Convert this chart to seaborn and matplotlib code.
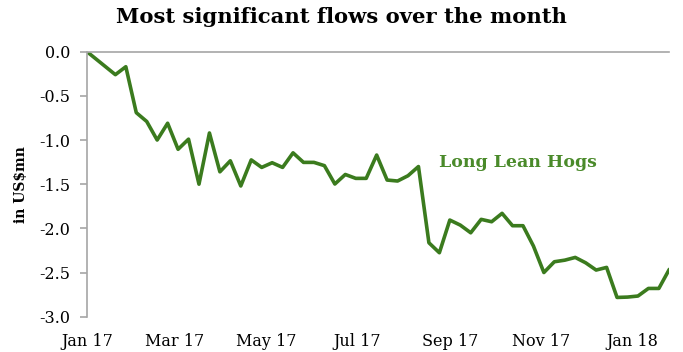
import numpy as np
import pandas as pd
import matplotlib
matplotlib.use("Agg")
import matplotlib.pyplot as plt
import matplotlib.dates as mdates
import seaborn as sns

# Weekly positioning flows (Friday releases), in US$ mn
start_date = "2017-01-01"
first_friday = "2017-01-20"
n_weeks = 54
flows = [
    0.0,
    -0.26, -0.17, -0.69, -0.79, -1.00, -0.81, -1.105, -0.99, -1.50, -0.92,
    -1.36, -1.235, -1.52, -1.225, -1.31, -1.257, -1.31, -1.145, -1.253, -1.253,
    -1.29, -1.498, -1.39, -1.434, -1.434, -1.17, -1.453, -1.464, -1.404, -1.30,
    -2.163, -2.276, -1.906, -1.963, -2.05, -1.898, -1.925, -1.83, -1.97, -1.97,
    -2.20, -2.50, -2.378, -2.36, -2.329, -2.39, -2.472, -2.442, -2.782, -2.778,
    -2.766, -2.68, -2.68, -2.464,
]
series_name = "Long Lean Hogs"
title = "Most significant flows over the month"
y_label = "in US$mn"
y_ticks = [0.0, -0.5, -1.0, -1.5, -2.0, -2.5, -3.0]

dates = [pd.Timestamp(start_date)] + list(pd.date_range(first_friday, periods=n_weeks, freq="7D"))
df = pd.DataFrame({"date": dates, "flow": flows})

sns.set_style("white")
plt.rcParams["font.family"] = ["DejaVu Serif"]
plt.rcParams["text.color"] = "black"
plt.rcParams["xtick.color"] = "black"
plt.rcParams["ytick.color"] = "black"
plt.rcParams["axes.labelcolor"] = "black"

green = "#3b7b1e"
grey = "#a6a6a6"

fig = plt.figure(figsize=(6.83, 3.52), dpi=100)
ax = fig.add_axes([87 / 683, 1 - 316.7 / 352, (669.3 - 87) / 683, (316.7 - 51.7) / 352])

sns.lineplot(data=df, x="date", y="flow", ax=ax, color=green, linewidth=2.6)

ax.set_xlim(df["date"].iloc[0], df["date"].iloc[-1])
ax.set_ylim(-3.0, 0.0)
ax.set_yticks(y_ticks)
ax.set_yticklabels([f"{v:.1f}" for v in y_ticks])

ax.xaxis.set_major_locator(mdates.MonthLocator(bymonth=[1, 3, 5, 7, 9, 11]))
ax.xaxis.set_major_formatter(mdates.DateFormatter("%b %y"))

for side in ["right", "bottom"]:
    ax.spines[side].set_visible(False)
for side in ["left", "top"]:
    ax.spines[side].set_color(grey)
    ax.spines[side].set_linewidth(1.2)

ax.tick_params(axis="y", which="major", length=5, width=1.2, color=grey,
               labelcolor="black", direction="out", labelsize=11.5, pad=7, left=True)
ax.tick_params(axis="x", which="major", length=0, labelcolor="black",
               labelsize=11.5, pad=12)

ax.set_xlabel("")
ax.set_ylabel(y_label, fontsize=10, fontweight="bold", labelpad=8)

ax.text(pd.Timestamp("2017-08-25"), -1.25, series_name,
        color="#4a8a2a", fontsize=12.5, fontweight="bold", va="center", ha="left")

fig.suptitle(title, x=0.5, y=0.98, fontsize=15.2, fontweight="bold", va="top")

fig.savefig("out.png", dpi=100)
